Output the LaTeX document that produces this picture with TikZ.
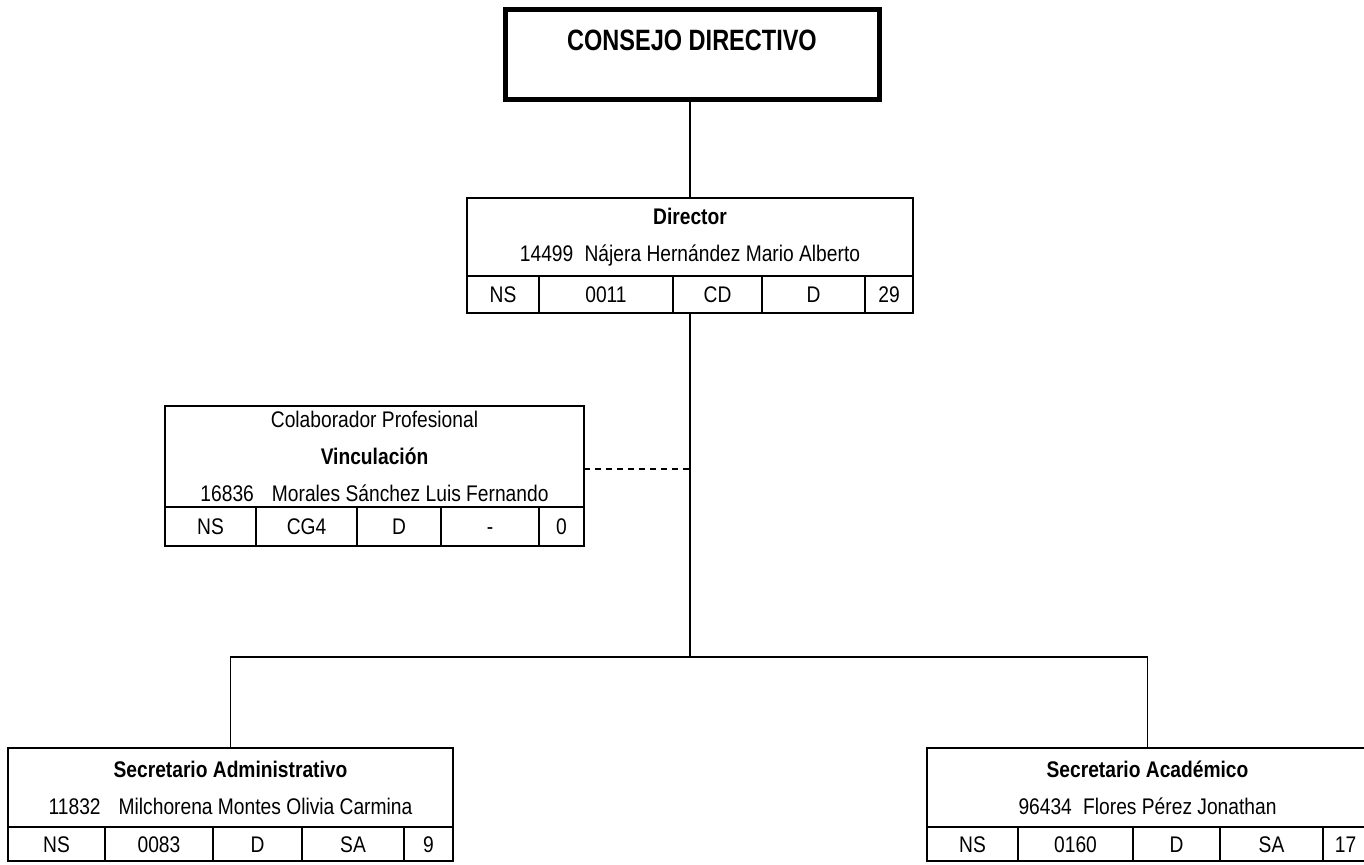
\documentclass[tikz,border=0pt]{standalone}
\usepackage{fontspec}
\setmainfont[FakeStretch=0.85]{Liberation Sans}
\newfontfamily\titulo[FakeStretch=0.8]{Liberation Sans}
\usetikzlibrary{matrix,positioning}

\tikzset{
  cargo/.style={draw, line width=1pt, align=center, inner sep=0pt, outer sep=0pt,
      font=\fontsize{11.3}{18.5}\selectfont},
  fila/.style={matrix of nodes, inner sep=0pt, outer sep=0pt, column sep=-1pt,
      nodes={draw, line width=1pt, inner sep=0pt, outer sep=0pt, text height=8pt,
      text depth=0pt, font=\fontsize{11.3}{13}\selectfont}},
  linea/.style={line width=0.9pt}
}

\begin{document}
\begin{tikzpicture}[x=0.5pt, y=-0.5pt]
\useasboundingbox (0,0) rectangle (1364,865);

% draw the board on top
\node (consejo) [draw, line width=2.5pt, minimum width=187pt, minimum height=45pt,
    inner sep=0pt, text depth=15pt, font=\titulo\bfseries\fontsize{14.7}{16}\selectfont]
    at (692,55) {CONSEJO DIRECTIVO};

% draw the director, his header and his row of data
\node (dir) [cargo, minimum width=223pt, minimum height=39pt] at (690,237)
    {\textbf{Director}\\14499\hspace{0.5em}Nájera Hernández Mario Alberto};
\matrix (dirfila) [fila, below=-.5pt of dir, nodes={minimum height=18.5pt},
    column 1/.style={nodes={minimum width=36pt}},
    column 2/.style={nodes={minimum width=67pt}},
    column 3/.style={nodes={minimum width=44.5pt}},
    column 4/.style={nodes={minimum width=51.5pt}},
    column 5/.style={nodes={minimum width=24pt}}]{
    NS & 0011 & CD & D & 29\\};

% draw the collaborator on the side
\node (vinc) [cargo, minimum width=209.5pt, minimum height=50.5pt] at (374.5,456.5)
    {Colaborador Profesional\\\textbf{Vinculación}\\16836\hspace{0.8em}Morales Sánchez Luis Fernando};
\matrix (vincfila) [fila, below=-.5pt of vinc, nodes={minimum height=19.5pt},
    column 1/.style={nodes={minimum width=45.5pt}},
    column 2/.style={nodes={minimum width=50.5pt}},
    column 3/.style={nodes={minimum width=42pt}},
    column 4/.style={nodes={minimum width=49pt}},
    column 5/.style={nodes={minimum width=22.5pt}}]{
    NS & CG4 & D & - & 0\\};

% draw the two secretaries
\node (sadm) [cargo, minimum width=222.5pt, minimum height=39.5pt] at (230.5,787.5)
    {\textbf{Secretario Administrativo}\\11832\hspace{0.8em}Milchorena Montes Olivia Carmina};
\matrix (sadmfila) [fila, below=-.5pt of sadm, nodes={minimum height=17pt},
    column 1/.style={nodes={minimum width=48.5pt}},
    column 2/.style={nodes={minimum width=54pt}},
    column 3/.style={nodes={minimum width=44.5pt}},
    column 4/.style={nodes={minimum width=51pt}},
    column 5/.style={nodes={minimum width=24.5pt}}]{
    NS & 0083 & D & SA & 9\\};

\node (sacad) [cargo, minimum width=220.5pt, minimum height=39.5pt] at (1147.5,787.5)
    {\textbf{Secretario Académico}\\96434\hspace{0.5em}Flores Pérez Jonathan};
\matrix (sacadfila) [fila, below=-.5pt of sacad, nodes={minimum height=17pt},
    column 1/.style={nodes={minimum width=45.5pt}},
    column 2/.style={nodes={minimum width=57.5pt}},
    column 3/.style={nodes={minimum width=43.5pt}},
    column 4/.style={nodes={minimum width=51.5pt}},
    column 5/.style={nodes={minimum width=22.5pt}}]{
    NS & 0160 & D & SA & 17\\};

% connect the boxes
\coordinate (rama) at (690,657);
\coordinate (enlace) at (690,469);
\draw [linea] (dir.north |- consejo.south) -- (dir.north);
\draw [linea] (dirfila.south) -- (rama);
\draw [linea] (sadm.north) |- (rama) -| (sacad.north);
\draw [linea, dash pattern=on 3pt off 2.5pt] (enlace -| vinc.east) -- (enlace);

\end{tikzpicture}
\end{document}
